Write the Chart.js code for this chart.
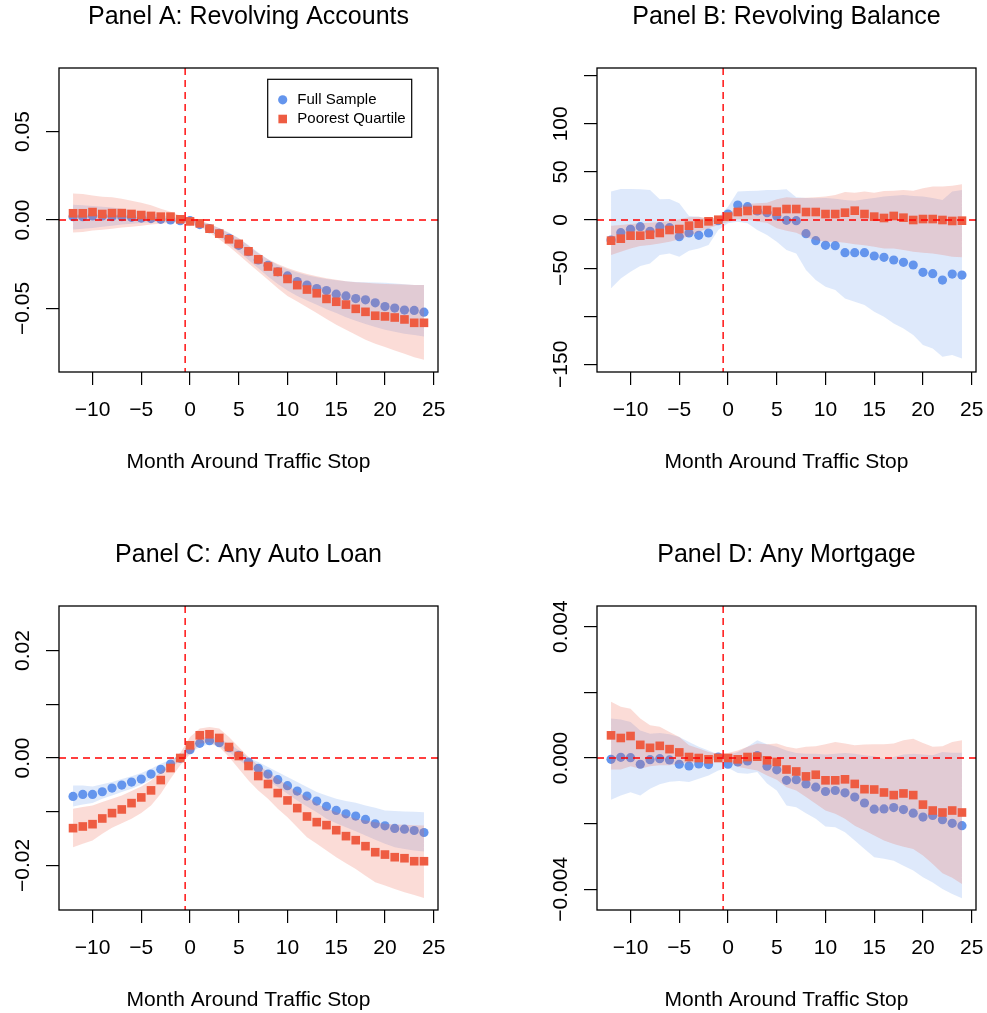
<!DOCTYPE html>
<html>
<head>
<meta charset="utf-8">
<title>Credit outcomes around traffic stops</title>
<script src="https://cdn.jsdelivr.net/npm/chart.js@4.4.0/dist/chart.umd.min.js"></script>
<style>
    html, body { margin: 0; padding: 0; background: #fff; }
    #page { position: relative; width: 987px; height: 1013px; overflow: hidden; background: #fff; }
    .panel { position: absolute; }
</style>
</head>
<body>
<div id="page">
    <canvas id="panelA" class="panel" style="left:0px;top:0px" width="538" height="506"></canvas>
    <canvas id="panelB" class="panel" style="left:538px;top:0px" width="449" height="506"></canvas>
    <canvas id="panelC" class="panel" style="left:0px;top:538px" width="538" height="506"></canvas>
    <canvas id="panelD" class="panel" style="left:538px;top:538px" width="449" height="506"></canvas>
</div>
<script>
// ==========================================
// Event-study panels: full sample vs poorest quartile
// ==========================================

const months = [-12, -11, -10, -9, -8, -7, -6, -5, -4, -3, -2, -1, 0,
    1, 2, 3, 4, 5, 6, 7, 8, 9, 10, 11, 12, 13, 14, 15, 16, 17, 18, 19, 20, 21, 22, 23, 24];

const xTickValues = [-10, -5, 0, 5, 10, 15, 20, 25];
const xTickLabels = ['−10', '−5', '0', '5', '10', '15', '20', '25'];
const stopMonth = -0.5;   // vertical reference line
const zeroLevel = 0;      // horizontal reference line

// --- Panel A: Revolving Accounts ---
const revAccFull = [0.0019, 0.0019, 0.0023, 0.0023, 0.0019, 0.0019, 0.0015, 0.0011, 0.0008, 0.0004, 0.0000, -0.0004, -0.0004,
    -0.0026, -0.0049, -0.0075, -0.0103, -0.0143, -0.0179, -0.0226, -0.0256, -0.0293, -0.0316, -0.0348, -0.0368,
    -0.0387, -0.0399, -0.0419, -0.0429, -0.0444, -0.0451, -0.0468, -0.0489, -0.0498, -0.0509, -0.0511, -0.0521];
const revAccFullHi = [0.0086, 0.0083, 0.0079, 0.0075, 0.0071, 0.0064, 0.0056, 0.0047, 0.0038, 0.0028, 0.0019, 0.0009, 0.0004,
    -0.0008, -0.0023, -0.0045, -0.0071, -0.0103, -0.0141, -0.0184, -0.0222, -0.0254, -0.0278, -0.0297, -0.0312,
    -0.0323, -0.0333, -0.0340, -0.0346, -0.0350, -0.0352, -0.0353, -0.0355, -0.0359, -0.0363, -0.0367, -0.0368];
const revAccFullLo = [-0.0053, -0.0049, -0.0045, -0.0038, -0.0032, -0.0026, -0.0021, -0.0017, -0.0013, -0.0011, -0.0009, -0.0008, -0.0008,
    -0.0030, -0.0060, -0.0094, -0.0135, -0.0179, -0.0226, -0.0273, -0.0320, -0.0361, -0.0399, -0.0429, -0.0455,
    -0.0479, -0.0504, -0.0526, -0.0549, -0.0570, -0.0588, -0.0605, -0.0620, -0.0632, -0.0643, -0.0650, -0.0658];
const revAccPoor = [0.0038, 0.0038, 0.0045, 0.0034, 0.0039, 0.0039, 0.0034, 0.0028, 0.0023, 0.0019, 0.0019, 0.0004, -0.0008,
    -0.0019, -0.0049, -0.0077, -0.0109, -0.0135, -0.0177, -0.0222, -0.0263, -0.0293, -0.0333, -0.0368, -0.0393,
    -0.0414, -0.0446, -0.0462, -0.0478, -0.0502, -0.0519, -0.0541, -0.0545, -0.0551, -0.0562, -0.0581, -0.0581];
const revAccPoorHi = [0.0150, 0.0147, 0.0139, 0.0132, 0.0128, 0.0120, 0.0109, 0.0098, 0.0083, 0.0064, 0.0047, 0.0026, 0.0011,
    0.0000, -0.0023, -0.0047, -0.0075, -0.0103, -0.0145, -0.0188, -0.0222, -0.0248, -0.0271, -0.0290, -0.0305,
    -0.0318, -0.0329, -0.0338, -0.0346, -0.0352, -0.0355, -0.0359, -0.0361, -0.0363, -0.0365, -0.0367, -0.0368];
const revAccPoorLo = [-0.0071, -0.0068, -0.0060, -0.0055, -0.0049, -0.0043, -0.0038, -0.0032, -0.0026, -0.0021, -0.0015, -0.0012, -0.0015,
    -0.0038, -0.0071, -0.0109, -0.0150, -0.0197, -0.0244, -0.0291, -0.0338, -0.0385, -0.0429, -0.0461, -0.0493,
    -0.0526, -0.0560, -0.0592, -0.0620, -0.0649, -0.0677, -0.0699, -0.0718, -0.0737, -0.0756, -0.0775, -0.0790];
const revAccTicks = [-0.05, 0, 0.05];
const revAccLabels = ['−0.05', '0.00', '0.05'];

// --- Panel B: Revolving Balance ---
const revBalFull = [-20.8, -13.2, -9.7, -6.9, -11.8, -6.9, -8.0, -17.3, -13.5, -15.9, -13.5, -0.7, 6.2,
    15.6, 13.9, 9.4, 7.6, 4.2, -0.3, -0.7, -14.2, -21.5, -26.3, -26.7, -34.0,
    -34.0, -34.0, -37.4, -38.8, -41.6, -44.0, -46.8, -54.4, -55.8, -62.4, -56.2, -57.2];
const revBalFullHi = [29.5, 32.2, 32.2, 31.9, 31.2, 21.5, 21.8, 17.3, 4.2, 3.5, 0.5, 3.0, 13.9,
    29.5, 30.2, 30.5, 31.2, 31.2, 31.9, 23.6, 22.9, 22.5, 22.9, 22.2, 20.8,
    20.1, 21.5, 22.9, 24.3, 25.3, 26.0, 25.0, 24.3, 22.9, 20.8, 29.5, 31.2];
const revBalFullLo = [-71.0, -60.7, -53.7, -47.8, -45.1, -36.4, -34.7, -38.1, -31.9, -29.5, -26.0, -10.4, -3.5,
    -1.7, -3.5, -10.4, -15.6, -22.5, -31.2, -34.7, -52.0, -62.4, -69.3, -72.8, -81.5,
    -84.9, -88.4, -95.3, -100.5, -107.5, -112.7, -119.6, -130.0, -133.5, -142.1, -140.4, -143.9];
const revBalPoor = [-21.5, -19.4, -16.3, -16.3, -15.3, -13.5, -10.4, -9.4, -5.9, -3.8, -1.4, 0.3, 3.5,
    8.3, 9.4, 10.4, 10.4, 8.7, 11.4, 11.4, 8.3, 8.3, 6.2, 6.2, 7.6,
    9.7, 6.2, 3.5, 2.1, 4.2, 2.4, 0.0, 1.0, 1.0, 0.0, -1.0, -0.7];
const revBalPoorHi = [-5.9, -5.2, -4.2, -3.5, -2.8, -2.1, -1.4, 0.7, 2.8, 3.5, 1.7, 2.0, 6.0,
    13.9, 16.6, 17.3, 18.0, 21.5, 23.6, 22.9, 23.2, 23.6, 24.3, 26.0, 29.1,
    28.4, 29.5, 28.4, 30.2, 30.5, 31.2, 30.5, 32.9, 34.7, 34.7, 35.7, 37.1];
const revBalPoorLo = [-36.4, -32.9, -29.5, -27.0, -26.0, -24.3, -22.5, -20.1, -16.6, -12.1, -8.7, -5.2, -2.1,
    0.7, 0.7, -1.7, -2.8, -8.7, -11.1, -13.2, -18.0, -20.8, -22.5, -22.5, -23.6,
    -25.3, -26.3, -27.7, -29.5, -29.5, -31.2, -32.9, -34.0, -34.7, -36.4, -38.1, -38.8];
const revBalTicks = [-150, -100, -50, 0, 50, 100, 150];
const revBalLabels = ['−150', '', '−50', '0', '50', '100', ''];

// --- Panel C: Any Auto Loan ---
const autoFull = [-0.00715, -0.00678, -0.00678, -0.00628, -0.00560, -0.00504, -0.00448, -0.00392, -0.00299, -0.00211, -0.00112, -0.00006, 0.00155,
    0.00274, 0.00323, 0.00286, 0.00193, 0.00050, -0.00075, -0.00193, -0.00299, -0.00404, -0.00516, -0.00616, -0.00709,
    -0.00802, -0.00902, -0.00977, -0.01039, -0.01082, -0.01144, -0.01225, -0.01263, -0.01312, -0.01325, -0.01350, -0.01387];
const autoFullHi = [-0.00510, -0.00510, -0.00529, -0.00491, -0.00448, -0.00392, -0.00342, -0.00280, -0.00199, -0.00106, -0.00031, 0.00050, 0.00205,
    0.00361, 0.00404, 0.00361, 0.00267, 0.00143, 0.00006, -0.00075, -0.00168, -0.00261, -0.00355, -0.00448, -0.00541,
    -0.00634, -0.00697, -0.00759, -0.00802, -0.00833, -0.00883, -0.00927, -0.00977, -0.00989, -0.00995, -0.01001, -0.01008];
const autoFullLo = [-0.00902, -0.00865, -0.00840, -0.00759, -0.00697, -0.00634, -0.00572, -0.00498, -0.00398, -0.00292, -0.00180, -0.00056, 0.00093,
    0.00205, 0.00255, 0.00218, 0.00112, -0.00031, -0.00168, -0.00292, -0.00417, -0.00541, -0.00665, -0.00790, -0.00902,
    -0.01008, -0.01132, -0.01213, -0.01288, -0.01362, -0.01443, -0.01524, -0.01598, -0.01661, -0.01692, -0.01723, -0.01742];
const autoPoor = [-0.01306, -0.01275, -0.01232, -0.01126, -0.01026, -0.00958, -0.00840, -0.00734, -0.00603, -0.00411, -0.00187, 0.00000, 0.00236,
    0.00423, 0.00442, 0.00373, 0.00205, 0.00037, -0.00149, -0.00336, -0.00485, -0.00653, -0.00790, -0.00933, -0.01089,
    -0.01194, -0.01250, -0.01344, -0.01455, -0.01530, -0.01642, -0.01754, -0.01798, -0.01847, -0.01866, -0.01922, -0.01922];
const autoPoorHi = [-0.00945, -0.00914, -0.00883, -0.00821, -0.00759, -0.00697, -0.00616, -0.00529, -0.00417, -0.00261, -0.00075, 0.00093, 0.00392,
    0.00547, 0.00578, 0.00547, 0.00392, 0.00205, 0.00019, -0.00137, -0.00261, -0.00386, -0.00510, -0.00634, -0.00728,
    -0.00852, -0.00945, -0.01008, -0.01070, -0.01132, -0.01163, -0.01194, -0.01225, -0.01238, -0.01244, -0.01250, -0.01256];
const autoPoorLo = [-0.01660, -0.01598, -0.01536, -0.01412, -0.01300, -0.01213, -0.01132, -0.01026, -0.00883, -0.00665, -0.00386, -0.00137, 0.00068,
    0.00267, 0.00299, 0.00205, 0.00019, -0.00199, -0.00417, -0.00603, -0.00759, -0.00945, -0.01101, -0.01288, -0.01474,
    -0.01598, -0.01723, -0.01847, -0.01959, -0.02065, -0.02190, -0.02314, -0.02376, -0.02438, -0.02501, -0.02550, -0.02606];
const autoTicks = [-0.02, -0.01, 0, 0.01, 0.02];
const autoLabels = ['−0.02', '', '0.00', '', '0.02'];

// --- Panel D: Any Mortgage ---
const mortFull = [-0.00004, 0.00002, 0.00001, -0.00019, -0.00005, -0.00002, -0.00006, -0.00019, -0.00024, -0.00018, -0.00020, 0.00003, -0.00019,
    -0.00012, -0.00009, 0.00007, -0.00025, -0.00036, -0.00068, -0.00066, -0.00079, -0.00089, -0.00102, -0.00099, -0.00106,
    -0.00119, -0.00137, -0.00156, -0.00155, -0.00151, -0.00157, -0.00168, -0.00180, -0.00175, -0.00188, -0.00199, -0.00206];
const mortFullHi = [0.00120, 0.00117, 0.00110, 0.00084, 0.00074, 0.00076, 0.00072, 0.00064, 0.00049, 0.00034, 0.00023, 0.00011, 0.00008,
    0.00018, 0.00034, 0.00054, 0.00042, 0.00034, 0.00023, 0.00015, 0.00013, 0.00013, 0.00011, 0.00013, 0.00015,
    0.00013, 0.00008, 0.00005, -0.00003, 0.00003, 0.00011, 0.00013, 0.00011, 0.00008, 0.00018, 0.00016, 0.00016];
const mortFullLo = [-0.00127, -0.00114, -0.00104, -0.00114, -0.00094, -0.00080, -0.00072, -0.00070, -0.00073, -0.00063, -0.00053, -0.00038, -0.00030,
    -0.00046, -0.00048, -0.00043, -0.00078, -0.00099, -0.00145, -0.00150, -0.00168, -0.00185, -0.00209, -0.00211, -0.00226,
    -0.00251, -0.00277, -0.00302, -0.00307, -0.00313, -0.00328, -0.00343, -0.00363, -0.00379, -0.00399, -0.00414, -0.00427];
const mortPoor = [0.00069, 0.00061, 0.00067, 0.00040, 0.00031, 0.00037, 0.00027, 0.00017, 0.00003, 0.00000, -0.00004, 0.00000, 0.00000,
    -0.00004, 0.00003, 0.00004, -0.00007, -0.00012, -0.00035, -0.00041, -0.00056, -0.00051, -0.00068, -0.00068, -0.00065,
    -0.00079, -0.00095, -0.00096, -0.00105, -0.00113, -0.00108, -0.00113, -0.00142, -0.00160, -0.00166, -0.00160, -0.00166];
const mortPoorHi = [0.00171, 0.00156, 0.00150, 0.00120, 0.00100, 0.00095, 0.00079, 0.00064, 0.00039, 0.00029, 0.00018, 0.00013, 0.00015,
    0.00023, 0.00034, 0.00044, 0.00042, 0.00044, 0.00034, 0.00029, 0.00034, 0.00036, 0.00042, 0.00049, 0.00044,
    0.00039, 0.00041, 0.00042, 0.00042, 0.00044, 0.00054, 0.00059, 0.00046, 0.00034, 0.00036, 0.00049, 0.00054];
const mortPoorLo = [-0.00035, -0.00035, -0.00025, -0.00033, -0.00025, -0.00022, -0.00022, -0.00017, -0.00015, -0.00013, -0.00009, -0.00005, -0.00009,
    -0.00027, -0.00033, -0.00038, -0.00053, -0.00066, -0.00089, -0.00099, -0.00119, -0.00139, -0.00160, -0.00170, -0.00185,
    -0.00206, -0.00221, -0.00236, -0.00251, -0.00262, -0.00270, -0.00277, -0.00297, -0.00323, -0.00351, -0.00365, -0.00384];
const mortTicks = [-0.004, -0.002, 0, 0.002, 0.004];
const mortLabels = ['−0.004', '', '0.000', '', '0.004'];

// ------------------------------------------
// Styling
// ------------------------------------------
const FONT = "'Liberation Sans', Arial, Helvetica, sans-serif";
const BLUE = '#6495ED';
const RED = '#EE5C42';
const BLUE_BAND = 'rgba(100, 149, 237, 0.21)';
const RED_BAND = 'rgba(238, 92, 66, 0.21)';
const X_MIN = -13.44, X_MAX = 25.44;

Chart.defaults.font.family = FONT;
Chart.defaults.color = '#000';

function toPoints(values) {
    return months.map((m, i) => ({ x: m, y: values[i] }));
}

function bandPair(hi, lo, color, order) {
    return [
        { label: 'hi', data: toPoints(hi), fill: '+1', backgroundColor: color, borderColor: 'rgba(0,0,0,0)', borderWidth: 0, pointRadius: 0, order },
        { label: 'lo', data: toPoints(lo), fill: false, borderColor: 'rgba(0,0,0,0)', borderWidth: 0, pointRadius: 0, order }
    ];
}

// R-style furniture: dashed reference lines, box, rotated y labels, legend
function rStylePlugin(cfg) {
    return {
        id: 'rStyle',
        afterDatasetsDraw(chart) {
            const { ctx, chartArea: a, scales: { x, y } } = chart;

            ctx.save();
            ctx.beginPath();
            ctx.rect(a.left, a.top, a.right - a.left, a.bottom - a.top);
            ctx.clip();
            ctx.strokeStyle = '#FF0000';
            ctx.lineWidth = 1.4;
            ctx.setLineDash([7, 5]);
            const px = x.getPixelForValue(stopMonth);
            const py = y.getPixelForValue(zeroLevel);
            ctx.beginPath();
            ctx.moveTo(a.left, py);
            ctx.lineTo(a.right, py);
            ctx.moveTo(px, a.top);
            ctx.lineTo(px, a.bottom);
            ctx.stroke();
            ctx.restore();
        },
        afterDraw(chart) {
            const { ctx, chartArea: a, scales: { y } } = chart;

            ctx.save();
            ctx.strokeStyle = '#000';
            ctx.lineWidth = 1.3;
            ctx.strokeRect(a.left, a.top, a.right - a.left, a.bottom - a.top);

            // y tick labels, parallel to the axis
            ctx.fillStyle = '#000';
            ctx.font = '21px ' + FONT;
            ctx.textAlign = 'center';
            ctx.textBaseline = 'alphabetic';
            cfg.yTicks.forEach((v, i) => {
                const lab = cfg.yLabels[i];
                if (!lab) return;
                ctx.save();
                ctx.translate(a.left - 29.7, y.getPixelForValue(v));
                ctx.rotate(-Math.PI / 2);
                ctx.fillText(lab, 0, 0);
                ctx.restore();
            });

            if (cfg.legend) {
                const lx = a.right - 170.3;
                const ly = a.top + 11.3;
                ctx.lineWidth = 1.2;
                ctx.strokeRect(lx, ly, 144, 58);
                const sets = chart.data.datasets.filter(d => d.showLine === false);
                ctx.font = '15px ' + FONT;
                ctx.textAlign = 'left';
                ctx.textBaseline = 'middle';
                sets.forEach((d, i) => {
                    const cy = ly + 20.5 + i * 19.2;
                    ctx.fillStyle = d.pointBackgroundColor;
                    ctx.beginPath();
                    if (d.pointStyle === 'rect') {
                        ctx.rect(lx + 15 - 4.3, cy - 4.3, 8.6, 8.6);
                    } else {
                        ctx.arc(lx + 15, cy, 4.6, 0, Math.PI * 2);
                    }
                    ctx.fill();
                    ctx.fillStyle = '#000';
                    ctx.fillText(d.label, lx + 29.6, cy);
                });
            }
            ctx.restore();
        }
    };
}

function createPanel(canvasId, cfg) {
    const canvas = document.getElementById(canvasId);
    const ctx = canvas.getContext('2d');

    const datasets = [
        ...bandPair(cfg.fullHi, cfg.fullLo, BLUE_BAND, 4),
        {
            label: 'Full Sample', data: toPoints(cfg.full), showLine: false,
            pointStyle: 'circle', pointRadius: 4.6, pointHoverRadius: 4.6,
            pointBackgroundColor: BLUE, pointBorderWidth: 0, borderColor: BLUE, order: 3
        },
        ...bandPair(cfg.poorHi, cfg.poorLo, RED_BAND, 2),
        {
            label: 'Poorest Quartile', data: toPoints(cfg.poor), showLine: false,
            pointStyle: 'rect', pointRadius: 6.1, pointHoverRadius: 6.1,
            pointBackgroundColor: RED, pointBorderWidth: 0, borderColor: RED, order: 1
        }
    ];

    const axisGrid = { drawOnChartArea: false, drawTicks: true, tickLength: 13, color: '#000', lineWidth: 1.2 };

    return new Chart(ctx, {
        type: 'line',
        data: { datasets },
        options: {
            responsive: false,
            animation: false,
            events: [],
            layout: { padding: { left: 0, top: 0, right: canvas.width - 438, bottom: 0 } },
            plugins: {
                legend: { display: false },
                tooltip: { enabled: false },
                title: {
                    display: true,
                    text: cfg.title,
                    color: '#000',
                    fullSize: false,
                    font: { family: FONT, size: 25, weight: 'normal' },
                    padding: { top: 2, bottom: 36 }
                }
            },
            scales: {
                x: {
                    type: 'linear',
                    min: X_MIN,
                    max: X_MAX,
                    afterBuildTicks: s => { s.ticks = xTickValues.map(v => ({ value: v })); },
                    afterFit: s => { s.height = 134; s.paddingLeft = 0; s.paddingRight = 0; },
                    grid: axisGrid,
                    border: { display: false },
                    ticks: {
                        color: '#000',
                        font: { family: FONT, size: 21 },
                        padding: 13,
                        maxRotation: 0,
                        autoSkip: false,
                        callback: (v, i) => xTickLabels[i]
                    },
                    title: {
                        display: true,
                        text: 'Month Around Traffic Stop',
                        color: '#000',
                        font: { family: FONT, size: 21 },
                        padding: { top: 0, bottom: 31 }
                    }
                },
                y: {
                    type: 'linear',
                    min: cfg.yMin,
                    max: cfg.yMax,
                    afterBuildTicks: s => { s.ticks = cfg.yTicks.map(v => ({ value: v })); },
                    afterFit: s => { s.width = 59; s.paddingTop = 0; s.paddingBottom = 0; },
                    grid: axisGrid,
                    border: { display: false },
                    ticks: { display: false }
                }
            }
        },
        plugins: [rStylePlugin(cfg)]
    });
}

createPanel('panelA', {
    title: 'Panel A: Revolving Accounts',
    full: revAccFull, fullHi: revAccFullHi, fullLo: revAccFullLo,
    poor: revAccPoor, poorHi: revAccPoorHi, poorLo: revAccPoorLo,
    yMin: -0.0859, yMax: 0.0859, yTicks: revAccTicks, yLabels: revAccLabels,
    legend: true
});

createPanel('panelB', {
    title: 'Panel B: Revolving Balance',
    full: revBalFull, fullHi: revBalFullHi, fullLo: revBalFullLo,
    poor: revBalPoor, poorHi: revBalPoorHi, poorLo: revBalPoorLo,
    yMin: -158, yMax: 158, yTicks: revBalTicks, yLabels: revBalLabels
});

createPanel('panelC', {
    title: 'Panel C: Any Auto Loan',
    full: autoFull, fullHi: autoFullHi, fullLo: autoFullLo,
    poor: autoPoor, poorHi: autoPoorHi, poorLo: autoPoorLo,
    yMin: -0.0283, yMax: 0.0283, yTicks: autoTicks, yLabels: autoLabels
});

createPanel('panelD', {
    title: 'Panel D: Any Mortgage',
    full: mortFull, fullHi: mortFullHi, fullLo: mortFullLo,
    poor: mortPoor, poorHi: mortPoorHi, poorLo: mortPoorLo,
    yMin: -0.00463, yMax: 0.00463, yTicks: mortTicks, yLabels: mortLabels
});
</script>
</body>
</html>
